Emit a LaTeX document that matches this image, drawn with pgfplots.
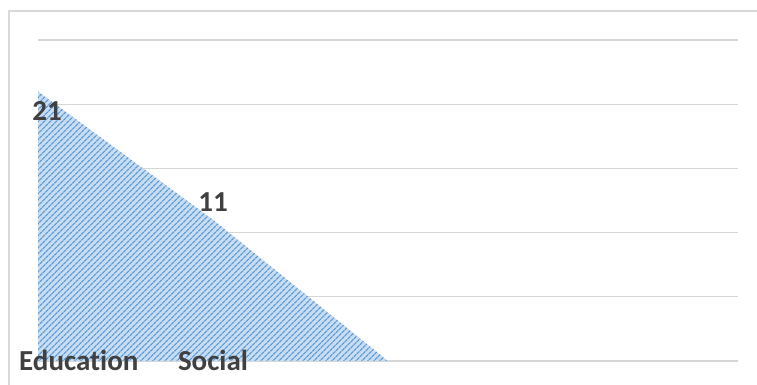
\documentclass[border=0pt]{standalone}
\usepackage{pgfplots}
\pgfplotsset{compat=1.18}
\usepackage{fontspec}
\setmainfont{Carlito}[Ligatures=NoCommon]
\usetikzlibrary{patterns.meta}
\definecolor{gridgray}{RGB}{214,214,214}
\definecolor{framegray}{RGB}{217,217,217}
\definecolor{areablue}{RGB}{91,155,213}
\definecolor{areabg}{RGB}{200,221,242}
\definecolor{labelgray}{RGB}{64,64,64}

\begin{document}
\begin{tikzpicture}
\useasboundingbox (0pt,0pt) rectangle (757pt,385pt);
% outer chart frame
\draw[framegray, line width=2pt] (9pt,0pt) -- (9pt,374pt) -- (757pt,374pt);
\begin{axis}[
  at={(38pt,24pt)}, anchor=origin,
  scale only axis, width=700pt, height=321pt,
  xmin=0, xmax=4, ymin=0, ymax=25,
  ytick={0,5,...,25}, yticklabels={}, xtick=\empty,
  ymajorgrids, grid style={gridgray, line width=1.2pt},
  axis line style={draw=none}, major tick length=0pt,
  clip=false,
]
\addplot[draw=none, fill=areabg,
  postaction={pattern={Lines[angle=45,distance=4pt,line width=1.3pt]}, pattern color=areablue}]
  coordinates {(0,21) (1,11) (2,0)} \closedcycle;

\tikzset{lbl/.style={font=\bfseries\fontsize{29}{32}\selectfont, text=labelgray, inner sep=0pt}}
% data labels
\node[lbl, anchor=center, xshift=9pt, yshift=-20pt] at (axis cs:0,21) {21};
\node[lbl, anchor=center, yshift=18pt] at (axis cs:1,11) {11};
% category labels
\node[lbl, anchor=base west, xshift=-19pt, yshift=-10pt] at (axis cs:0,0) {Education};
\node[lbl, anchor=base, yshift=-10pt] at (axis cs:1,0) {Social};
\end{axis}
\end{tikzpicture}
\end{document}
